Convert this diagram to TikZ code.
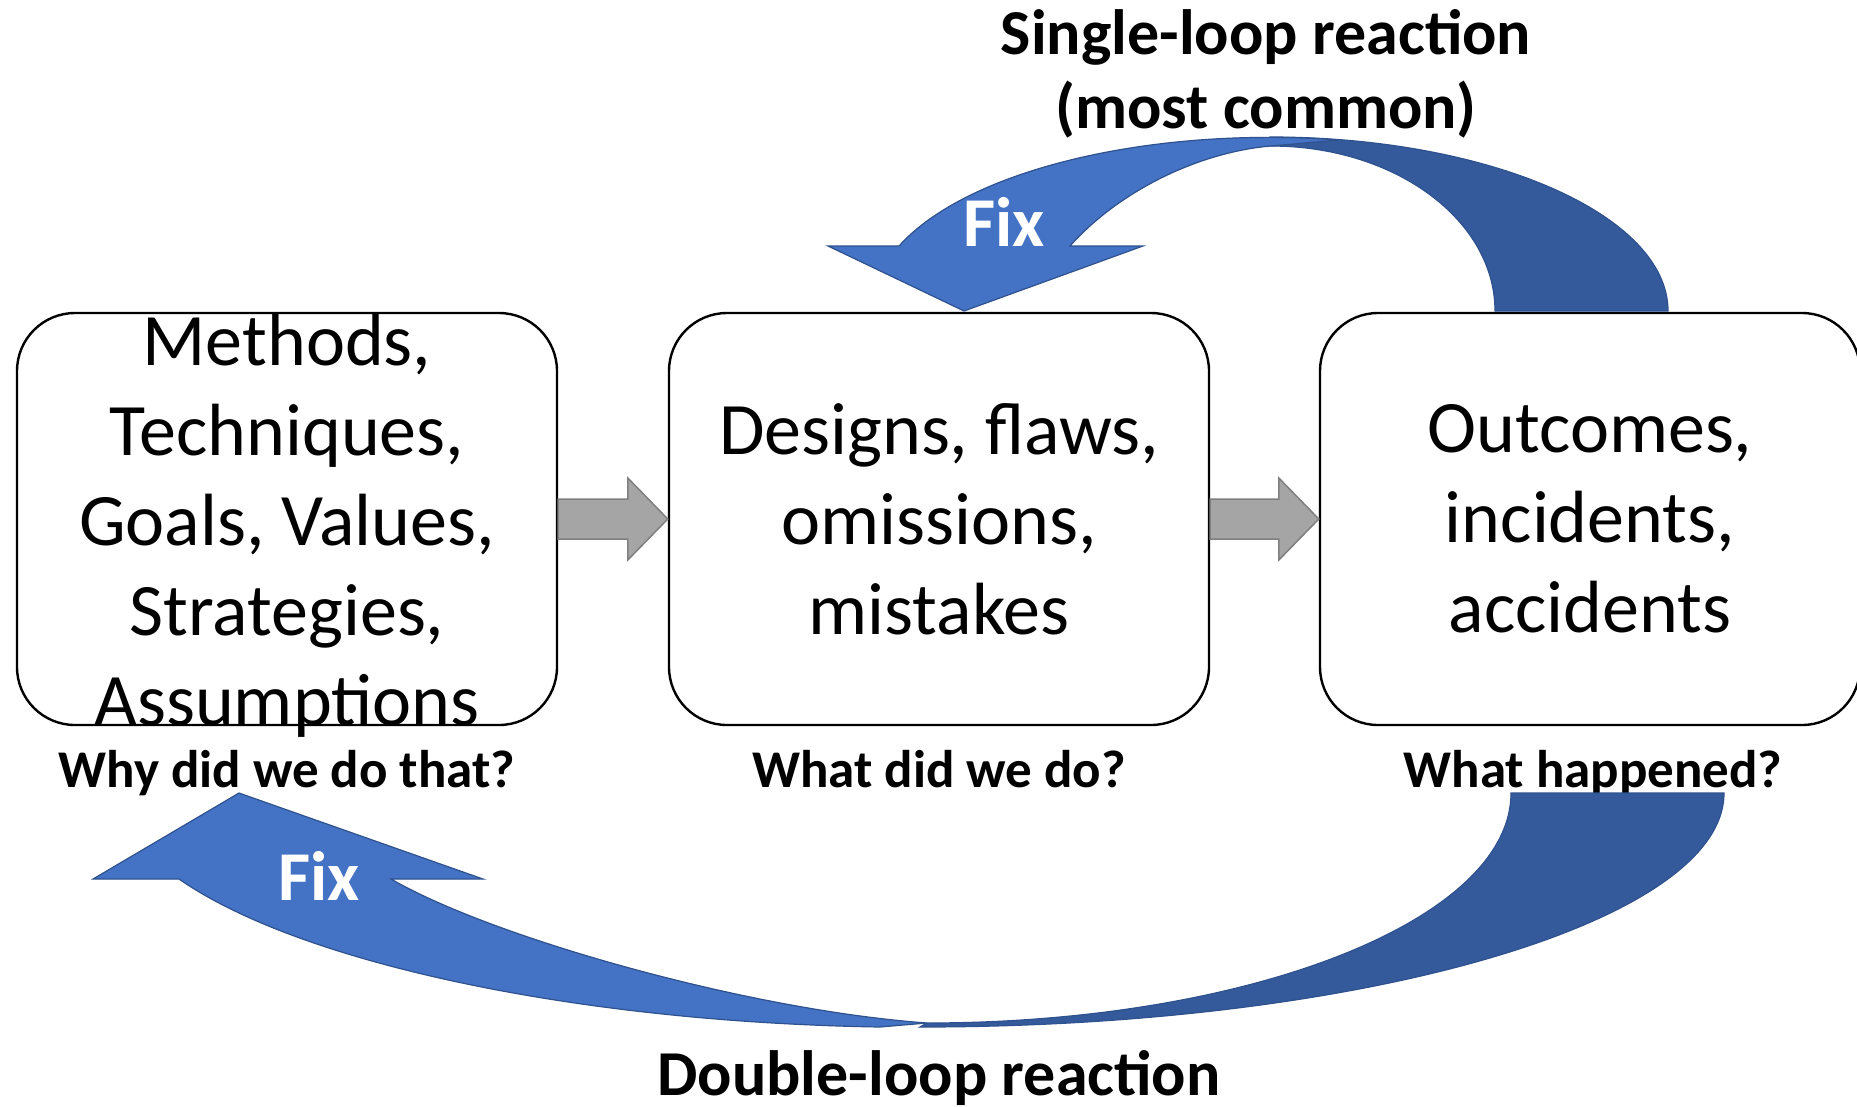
\documentclass[tikz,border=0pt]{standalone}
\usepackage{fontspec}
\setmainfont{Carlito}
\usepackage{tikz}
\usetikzlibrary{calc}
\definecolor{fixblue}{HTML}{4472C4}
\definecolor{backblue}{HTML}{345A9B}
\definecolor{edgeblue}{HTML}{2F528F}
\definecolor{stepgray}{HTML}{A5A5A5}
\definecolor{stepedge}{HTML}{7F7F7F}

\tikzset{
  stage/.style={draw=black, line width=2.4pt, rounded corners=58pt, fill=white,
    minimum width=540pt, minimum height=412pt, inner xsep=0pt, inner ysep=-30pt,
    align=center, font=\fontsize{74}{90}\selectfont},
  question/.style={anchor=base, font=\bfseries\fontsize{53}{64}\selectfont},
  caption/.style={anchor=base, font=\bfseries\fontsize{64}{76}\selectfont},
  fixlabel/.style={text=white, font=\bfseries\fontsize{70}{84}\selectfont},
  frontband/.style={fill=fixblue, draw=edgeblue, line width=1.2pt},
  backband/.style={fill=backblue, draw=edgeblue, line width=1.2pt},
  blockarrow/.style={fill=stepgray, draw=stepedge, line width=1.5pt}
}

\begin{document}
\begin{tikzpicture}[x=1pt, y=-1pt]
  \useasboundingbox (0,0) rectangle (1857,1106);

  % Stages
  \node[stage] (methods) at (287,519) {\rule{0pt}{65pt}Methods,\\Techniques,\\Goals, Values,\\Strategies,\\Assumptions};
  \node[stage] (designs) at (939,519) {Designs, flaws,\\omissions,\\mistakes};
  \node[stage] (outcomes) at (1590,519) {Outcomes,\\incidents,\\accidents};

  % Questions under the stages
  \node[question] (why) at (287,787) {Why did we do that?};
  \node[question] (whatdid) at (939,787) {What did we do?};
  \node[question] (happened) at (1593,787) {What happened?};

  % Block arrows between stages
  \draw[blockarrow] ($(methods.east)+(0,-20)$) -- ($(designs.west)+(-40,-20)$) -- ($(designs.west)+(-40,-41)$)
    -- (designs.west) -- ($(designs.west)+(-40,41)$) -- ($(designs.west)+(-40,20)$) -- ($(methods.east)+(0,20)$) -- cycle;
  \draw[blockarrow] ($(designs.east)+(0,-20)$) -- ($(outcomes.west)+(-40,-20)$) -- ($(outcomes.west)+(-40,-41)$)
    -- (outcomes.west) -- ($(outcomes.west)+(-40,41)$) -- ($(outcomes.west)+(-40,20)$) -- ($(designs.east)+(0,20)$) -- cycle;

  % Single loop, over the top
  \draw[backband] (1668,311) .. controls (1668,215) and (1490,137) .. (1270,137)
    -- (1271,146) .. controls (1395,146) and (1495,220) .. (1495,311) -- cycle;
  \draw[frontband] (1339,140) .. controls (1153,126) and (968,169) .. (899,246)
    -- (828,246) -- (964,311) -- (1143,246) -- (1070,246)
    .. controls (1120,190) and (1200,152) .. (1271,146) -- cycle;
  \node[fixlabel] (fixtop) at (1004,222) {Fix};

  % Double loop, underneath
  \draw[backband] (1724,793) .. controls (1724,922) and (1364,1027) .. (920,1027)
    -- (927,1023) .. controls (1249,1023) and (1511,920) .. (1511,793) -- cycle;
  \draw[frontband] (880,1027) .. controls (572,1022) and (298,962) .. (179,879)
    -- (93,879) -- (239,793) -- (483,879) -- (391,879)
    .. controls (491,937) and (747,1010) .. (927,1023) -- cycle;
  \node[fixlabel] (fixbottom) at (319,876) {Fix};

  % Reaction captions
  \node[caption] (single) at (1266,54) {Single-loop reaction};
  \node[caption] (common) at (1266,128) {(most common)};
  \node[caption] (double) at (939,1095) {Double-loop reaction};
\end{tikzpicture}
\end{document}
